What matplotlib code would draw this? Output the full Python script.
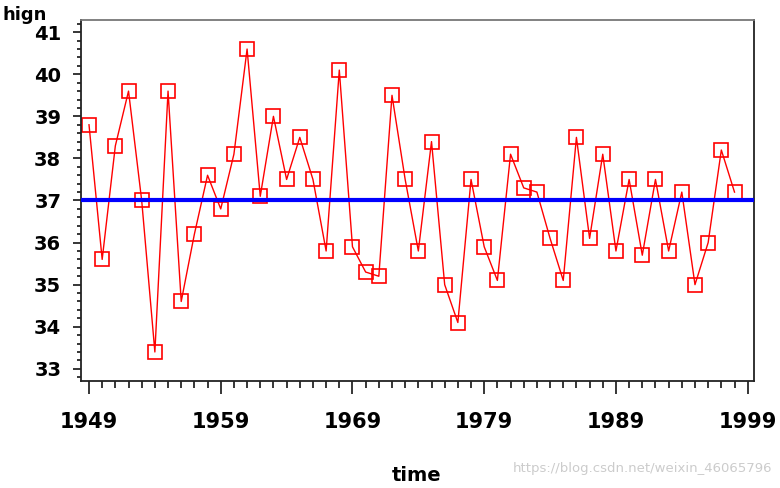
import numpy as np
import matplotlib
matplotlib.use("Agg")
import matplotlib.pyplot as plt
from matplotlib.ticker import MultipleLocator, FixedLocator

# yearly values
years = list(range(1949, 1999))
hign = [38.8, 35.6, 38.3, 39.6, 37.0, 33.4, 39.6, 34.6, 36.2, 37.6,
        36.8, 38.1, 40.6, 37.1, 39.0, 37.5, 38.5, 37.5, 35.8, 40.1,
        35.9, 35.3, 35.2, 39.5, 37.5, 35.8, 38.4, 35.0, 34.1, 37.5,
        35.9, 35.1, 38.1, 37.3, 37.2, 36.1, 35.1, 38.5, 36.1, 38.1,
        35.8, 37.5, 35.7, 37.5, 35.8, 37.2, 35.0, 36.0, 38.2, 37.2]
ref_level = 37
xticks = [1949, 1959, 1969, 1979, 1989, 1999]
yticks = [33, 34, 35, 36, 37, 38, 39, 40, 41]

W, H = 780, 488
fig = plt.figure(figsize=(W / 100, H / 100), dpi=100)
ax = fig.add_axes([80.7 / W, 1 - 381 / H, (754 - 80.7) / W, (381 - 20) / H])

ax.plot(years, hign, color="#ff0000", lw=1.0, marker="s", ms=9.5,
        mfc="none", mec="#ff0000", mew=1.2, zorder=2)
ax.axhline(ref_level, color="#0000ff", lw=3, zorder=3)

ax.set_xlim(1948.37, 1999.48)
ax.set_ylim(32.71, 41.29)

ax.xaxis.set_major_locator(FixedLocator(xticks))
ax.xaxis.set_minor_locator(MultipleLocator(1))
ax.yaxis.set_major_locator(FixedLocator(yticks))
ax.yaxis.set_minor_locator(MultipleLocator(0.2))
ax.set_xticklabels([str(t) for t in xticks])
ax.set_yticklabels([str(t) for t in yticks])

ax.tick_params(axis="x", which="major", length=9.5, width=1.1, pad=13,
               labelsize=15, direction="out")
ax.tick_params(axis="x", which="minor", length=5, width=1.1, direction="out")
ax.tick_params(axis="y", which="major", length=6, width=1.1, pad=8,
               labelsize=14, direction="out")
ax.tick_params(axis="y", which="minor", length=3.2, width=1.1, direction="out")
for lab in ax.get_xticklabels() + ax.get_yticklabels():
    lab.set_fontweight("bold")

for s in ax.spines.values():
    s.set_linewidth(1.3)
    s.set_color("#222222")
ax.spines["top"].set_color("#777777")

fig.text(2 / W, 1 - 20 / H, "hign", fontsize=13, fontweight="bold",
         ha="left", va="baseline")
fig.text(417 / W, 1 - 481 / H, "time", fontsize=14, fontweight="bold",
         ha="center", va="baseline")
fig.text(772 / W, 1 - 472 / H, "https://blog.csdn.net/weixin_46065796",
         fontsize=9.5, color="#cccccc", ha="right", va="baseline")

fig.savefig("out.png", dpi=100)
